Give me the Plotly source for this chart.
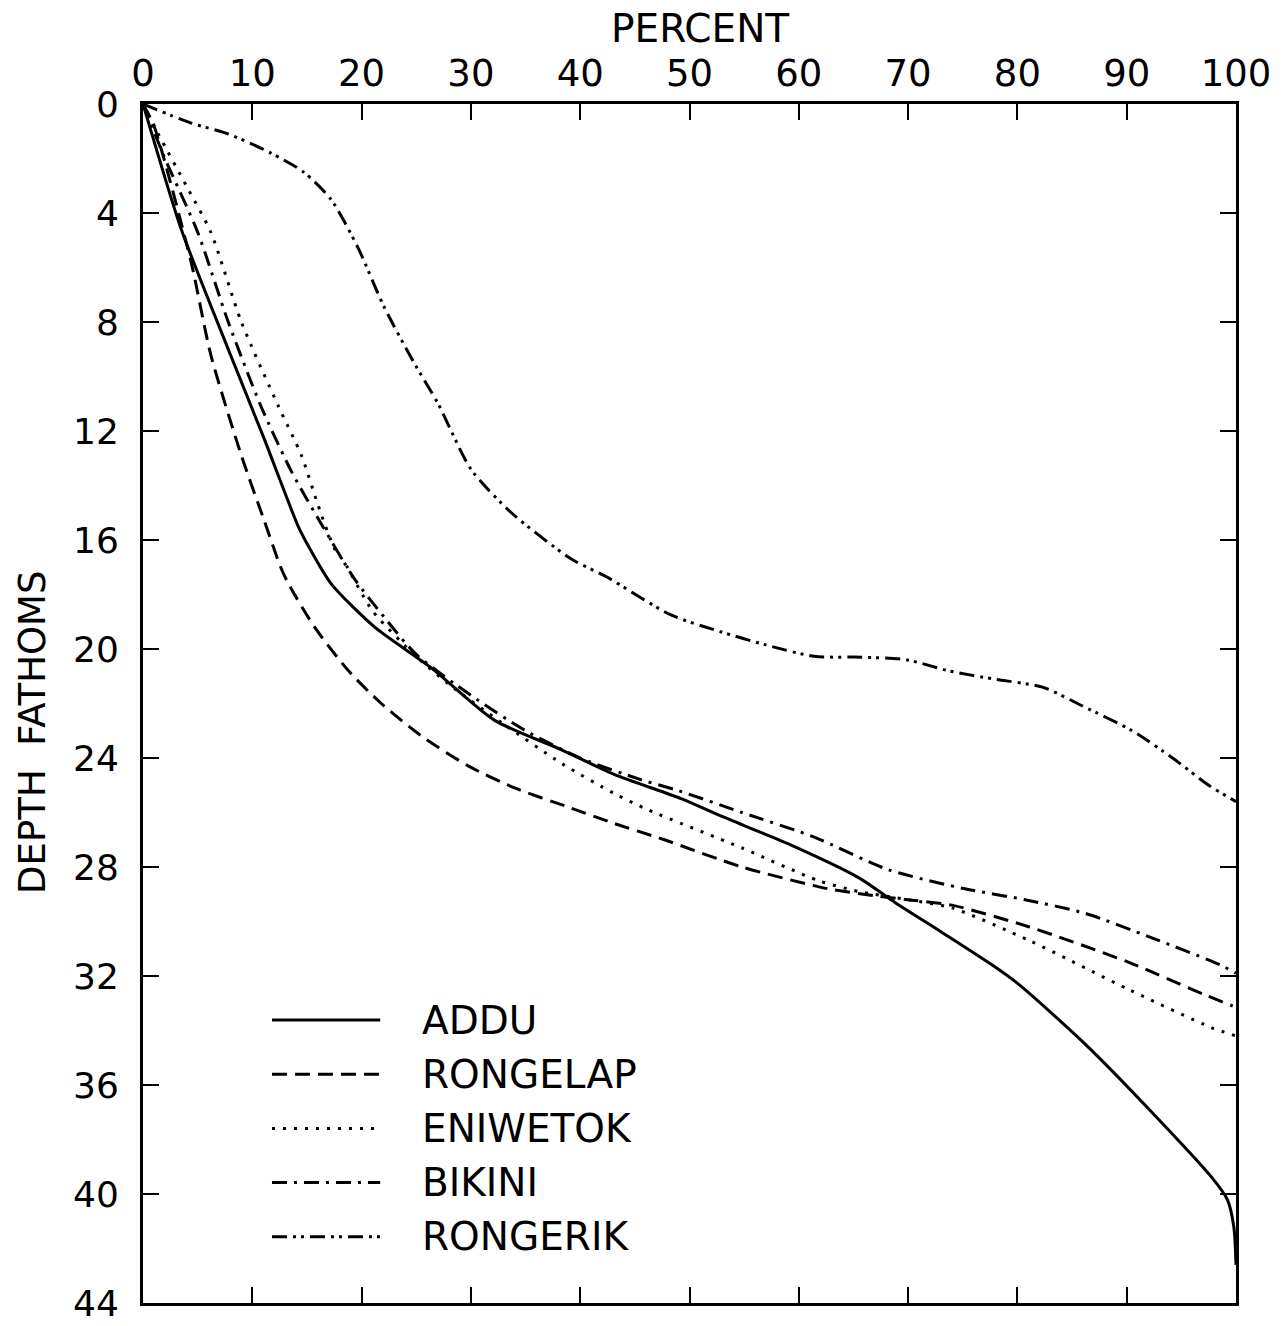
import plotly.graph_objects as go

# ---- data (percent, depth in fathoms) ----
addu_x = [0, 0.7, 3.5, 8, 11.1, 14.2, 15.1, 17.2, 21.2, 26.4, 32.1, 38.3, 43.1, 49.3, 52.7, 59.3, 65.5, 68.8, 73.1, 77.7, 80.1, 86.2, 92.3, 97.8, 99.2, 99.8, 100]
addu_y = [0, 0.95, 4.6, 9.2, 12.3, 15.5, 16.2, 17.6, 19.2, 20.7, 22.6, 23.7, 24.6, 25.5, 26.1, 27.2, 28.4, 29.3, 30.4, 31.6, 32.3, 34.5, 37.0, 39.4, 40.2, 41.2, 42.6]

rongelap_x = [0, 1, 4.4, 6.2, 9, 11.1, 12.6, 13.3, 15.7, 18.8, 21.8, 25.5, 29.8, 34, 38.9, 43.1, 47.7, 54.8, 62.7, 66.9, 70, 74, 81.1, 90.2, 97.2, 99.7]
rongelap_y = [0, 0.8, 5.8, 9.2, 12.9, 15.3, 17, 17.6, 19.2, 20.8, 22, 23.2, 24.3, 25.1, 25.8, 26.4, 27, 28.0, 28.8, 29.05, 29.2, 29.4, 30.2, 31.5, 32.7, 33.1]

eniwetok_x = [0, 1.4, 4.1, 6.2, 9, 12.4, 14.5, 16, 17.5, 18.4, 21, 24.8, 28, 32.8, 38.3, 43.1, 46.2, 54.8, 61.8, 65.5, 70, 74, 81.1, 90.2, 97.8, 100]
eniwetok_y = [0, 1.1, 3.1, 4.7, 8, 11.1, 12.9, 14.7, 16.3, 16.8, 18.6, 20.2, 21.3, 22.7, 24.2, 25.3, 25.9, 27.3, 28.5, 28.9, 29.2, 29.5, 30.7, 32.5, 33.9, 34.2]

bikini_x = [0, 1.9, 5, 7.8, 10.8, 13.6, 16.3, 19.3, 22, 25, 30, 35, 40, 45.6, 49, 54.8, 61.4, 68.2, 75.2, 80.7, 86.2, 92.3, 98.6, 100]
bikini_y = [0, 1.9, 4.7, 8, 11.1, 13.5, 15.4, 17.4, 18.8, 20.2, 21.7, 23, 24, 24.8, 25.2, 26.0, 26.9, 28.1, 28.8, 29.2, 29.7, 30.6, 31.6, 31.9]

rongerik_x = [0, 4.4, 7.8, 11.7, 14.7, 17.2, 19.7, 22, 24.8, 27, 30, 33.7, 39.2, 42.4, 48.3, 52.8, 56.9, 61.4, 65.8, 69.9, 73.7, 77.8, 82.3, 86, 90.5, 94.2, 97.5, 100]
rongerik_y = [0, 0.7, 1.1, 1.8, 2.5, 3.5, 5.3, 7.4, 9.5, 11, 13.4, 15, 16.7, 17.35, 18.75, 19.36, 19.84, 20.27, 20.3, 20.4, 20.8, 21.1, 21.4, 22.1, 23, 24, 25, 25.6]

names = ["ADDU", "RONGELAP", "ENIWETOK", "BIKINI", "RONGERIK"]
xs = [addu_x, rongelap_x, eniwetok_x, bikini_x, rongerik_x]
ys = [addu_y, rongelap_y, eniwetok_y, bikini_y, rongerik_y]
dashes = ["solid", "15px,8px", "3px,8px", "15px,7px,3px,7px", "15px,6px,3px,5px,3px,6px"]
widths = [3, 3, 3, 3, 3]

x_ticks = list(range(0, 101, 10))
y_ticks = list(range(0, 45, 4))

FONT = "DejaVu Sans"
TXT = 36

fig = go.Figure()
for name, x, y, d, w in zip(names, xs, ys, dashes, widths):
    fig.add_trace(go.Scatter(
        x=x, y=y, mode="lines", name=name,
        line=dict(color="black", width=w, dash=d, shape="spline", smoothing=0.7),
        showlegend=False,
    ))

# legend drawn inside plot (lower left)
leg_top = 0.236
leg_step = 0.0452
shapes = []
annotations = []
for i, (name, d) in enumerate(zip(names, dashes)):
    yy = leg_top - i * leg_step
    shapes.append(dict(type="line", xref="paper", yref="paper",
                       x0=0.118, x1=0.217, y0=yy, y1=yy,
                       line=dict(color="black", width=3, dash=d)))
    annotations.append(dict(xref="paper", yref="paper", x=0.253, y=yy,
                            text=name, showarrow=False, xanchor="left",
                            yanchor="middle",
                            font=dict(family=FONT, size=39, color="black")))

annotations.append(dict(xref="paper", yref="paper", x=0.51, y=1.0, yshift=76,
                        text="PERCENT", showarrow=False, xanchor="center",
                        yanchor="middle",
                        font=dict(family=FONT, size=39, color="black")))
annotations.append(dict(xref="paper", yref="paper", x=-0.101, y=0.476,
                        text="DEPTH  FATHOMS", showarrow=False, textangle=-90,
                        xanchor="center", yanchor="middle",
                        font=dict(family=FONT, size=37, color="black")))

fig.update_layout(
    width=1284, height=1326,
    margin=dict(l=143, r=48, t=104, b=23, autoexpand=False),
    paper_bgcolor="white", plot_bgcolor="white",
    font=dict(family=FONT, size=TXT, color="black"),
    shapes=shapes, annotations=annotations,
)
fig.update_xaxes(
    range=[0, 100], side="top", tickvals=x_ticks, ticktext=[str(v) for v in x_ticks],
    ticks="inside", ticklen=16, tickwidth=2, tickcolor="black",
    showline=True, linewidth=3, linecolor="black", mirror="ticks",
    showgrid=False, zeroline=False, ticklabeloverflow="allow", automargin=False,
    tickfont=dict(family=FONT, size=37, color="black"),
)
fig.update_yaxes(
    range=[44, 0], tickvals=y_ticks, ticktext=[str(v) for v in y_ticks],
    ticks="inside", ticklen=16, tickwidth=2, tickcolor="black",
    showline=True, linewidth=3, linecolor="black", mirror="ticks",
    showgrid=False, zeroline=False, ticklabeloverflow="allow", automargin=False,
    ticklabelstandoff=14,
    tickfont=dict(family=FONT, size=TXT, color="black"),
)

fig.write_html("out.html")
